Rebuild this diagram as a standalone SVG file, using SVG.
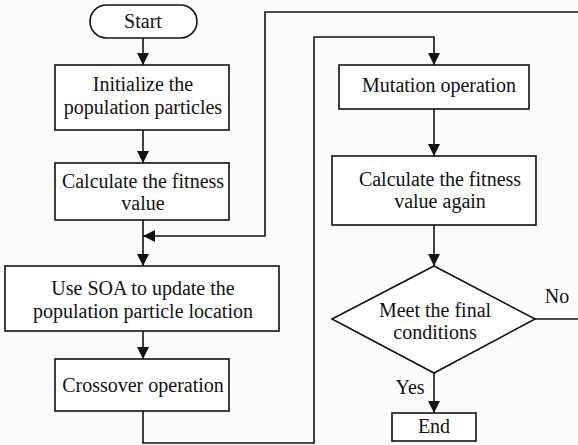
<svg xmlns="http://www.w3.org/2000/svg" width="578" height="445" viewBox="0 0 578 445">
<defs>
<marker id="ah" markerWidth="12" markerHeight="14" refX="14" refY="7" viewBox="0 0 14 14" markerUnits="userSpaceOnUse" orient="auto">
<path d="M0,0 L14,7 L0,14 Z" fill="#111"/>
</marker>
</defs>
<rect width="578" height="445" fill="#fcfcfc"/>
<g id="connectors" fill="none" stroke="#111" stroke-width="1.6">
<line x1="143" y1="38" x2="143" y2="65" marker-end="url(#ah)"/>
<line x1="143" y1="130" x2="143" y2="163" marker-end="url(#ah)"/>
<line x1="143" y1="220" x2="143" y2="266" marker-end="url(#ah)"/>
<polyline points="578,12 265,12 265,236 143,236" marker-end="url(#ah)"/>
<line x1="143" y1="331" x2="143" y2="359" marker-end="url(#ah)"/>
<polyline points="143,411 143,443 314,443 314,37 434,37 434,65" marker-end="url(#ah)"/>
<line x1="434" y1="109" x2="434" y2="156" marker-end="url(#ah)"/>
<line x1="434" y1="225" x2="434" y2="266" marker-end="url(#ah)"/>
<line x1="535" y1="319" x2="578" y2="319"/>
<line x1="434" y1="373" x2="434" y2="413" marker-end="url(#ah)"/>
</g>
<g id="labels" fill="#111" text-anchor="middle">
<text font-family="Liberation Serif" font-size="20" x="557" y="303">No</text>
<text font-family="Liberation Serif" font-size="20" x="410" y="394">Yes</text>
</g>
<g id="start">
<rect fill="#fff" stroke="#111" stroke-width="1.6" x="90" y="5" width="107" height="33" rx="16.5"/>
<text font-family="Liberation Serif" font-size="20" fill="#111" text-anchor="middle" x="143" y="28">Start</text>
</g>
<g id="init">
<rect fill="#fff" stroke="#111" stroke-width="1.6" x="55" y="65" width="174" height="65"/>
<text font-family="Liberation Serif" font-size="20" fill="#111" text-anchor="middle" x="143" y="91">Initialize the</text>
<text font-family="Liberation Serif" font-size="20" fill="#111" text-anchor="middle" x="143" y="114">population particles</text>
</g>
<g id="calc">
<rect fill="#fff" stroke="#111" stroke-width="1.6" x="55" y="163" width="174" height="57"/>
<text font-family="Liberation Serif" font-size="20" fill="#111" text-anchor="middle" x="143" y="188">Calculate the fitness</text>
<text font-family="Liberation Serif" font-size="20" fill="#111" text-anchor="middle" x="143" y="210">value</text>
</g>
<g id="soa">
<rect fill="#fff" stroke="#111" stroke-width="1.6" x="5" y="266" width="274" height="65"/>
<text font-family="Liberation Serif" font-size="20" fill="#111" text-anchor="middle" x="143" y="295">Use SOA to update the</text>
<text font-family="Liberation Serif" font-size="20" fill="#111" text-anchor="middle" x="143" y="318">population particle location</text>
</g>
<g id="crossover">
<rect fill="#fff" stroke="#111" stroke-width="1.6" x="55" y="359" width="174" height="52"/>
<text font-family="Liberation Serif" font-size="20" fill="#111" text-anchor="middle" x="143" y="392">Crossover operation</text>
</g>
<g id="mutation">
<rect fill="#fff" stroke="#111" stroke-width="1.6" x="339" y="65" width="190" height="44"/>
<text font-family="Liberation Serif" font-size="20" fill="#111" text-anchor="middle" x="439" y="92">Mutation operation</text>
</g>
<g id="calc2">
<rect fill="#fff" stroke="#111" stroke-width="1.6" x="332" y="156" width="204" height="69"/>
<text font-family="Liberation Serif" font-size="20" fill="#111" text-anchor="middle" x="440" y="186">Calculate the fitness</text>
<text font-family="Liberation Serif" font-size="20" fill="#111" text-anchor="middle" x="440" y="208">value again</text>
</g>
<g id="decision">
<polygon fill="#fff" stroke="#111" stroke-width="1.6" points="434,266 535,319 434,373 332,319"/>
<text font-family="Liberation Serif" font-size="20" fill="#111" text-anchor="middle" x="435" y="317">Meet the final</text>
<text font-family="Liberation Serif" font-size="20" fill="#111" text-anchor="middle" x="435" y="339">conditions</text>
</g>
<g id="end">
<rect fill="#fff" stroke="#111" stroke-width="1.6" x="392" y="413" width="84" height="28"/>
<text font-family="Liberation Serif" font-size="20" fill="#111" text-anchor="middle" x="434" y="433">End</text>
</g>
</svg>
